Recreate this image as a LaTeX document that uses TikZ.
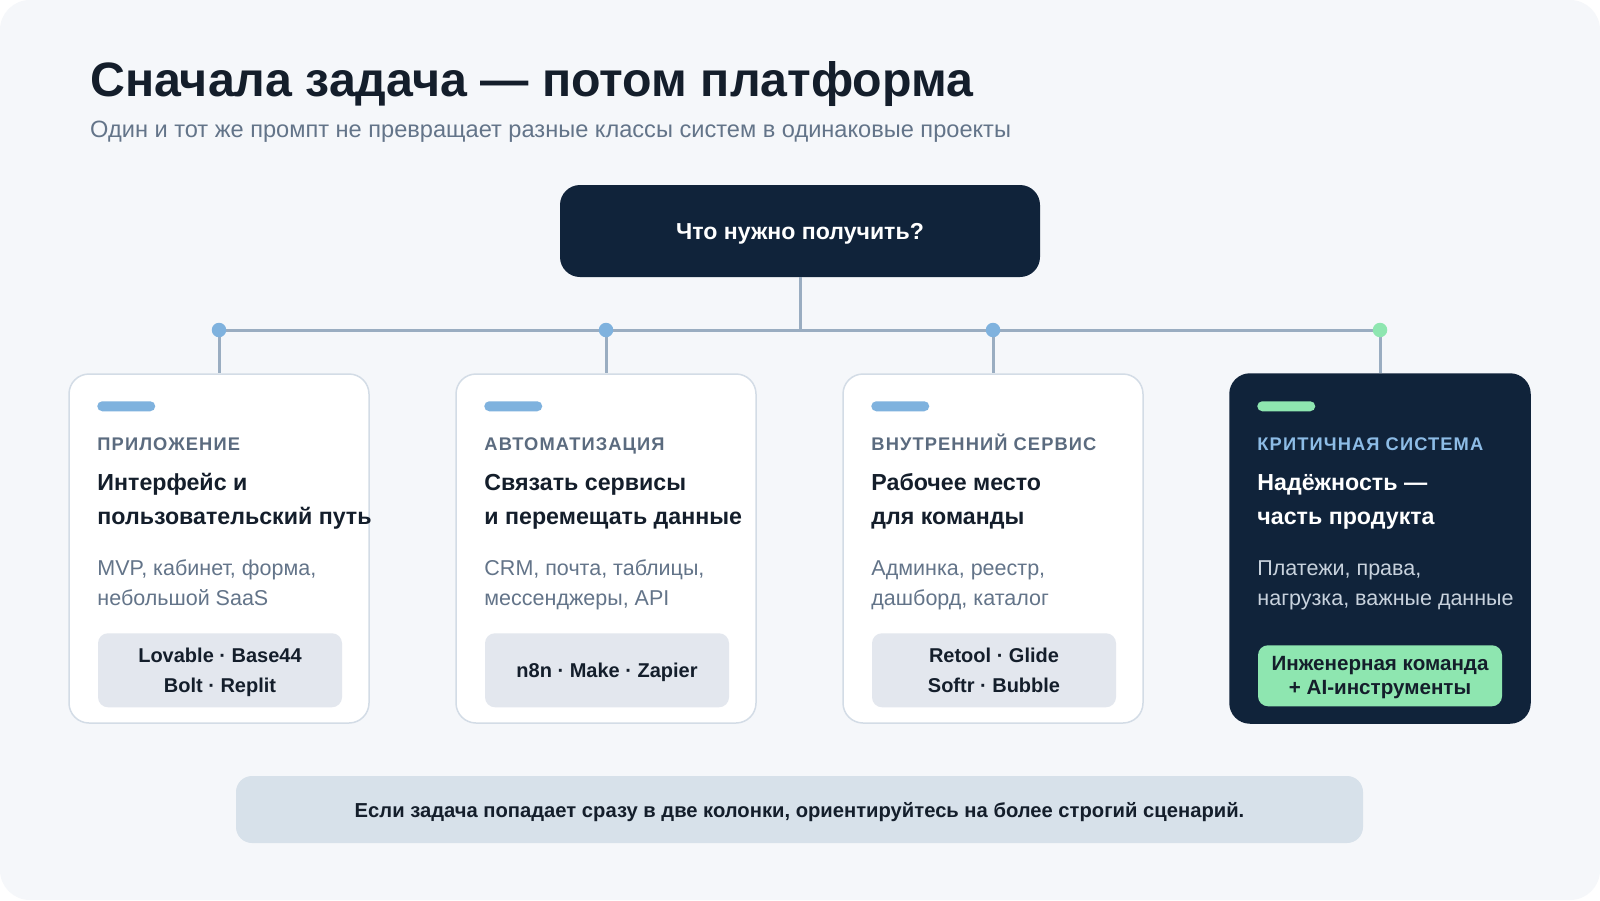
\documentclass[tikz,border=0pt]{standalone}
\usepackage{fontspec}
\setmainfont{Liberation Sans}
\newfontfamily\spacedfont[LetterSpace=6.0]{Liberation Sans}
\usepackage{xcolor}
\usetikzlibrary{positioning}

\definecolor{pagebg}{HTML}{F5F7FA}
\definecolor{navy}{HTML}{10233A}
\definecolor{ink}{HTML}{141E2B}
\definecolor{slate}{HTML}{5B6B7F}
\definecolor{mist}{HTML}{637489}
\definecolor{cardline}{HTML}{D3DCE6}
\definecolor{accent}{HTML}{7FB2DE}
\definecolor{mint}{HTML}{8EE6B0}
\definecolor{toolbg}{HTML}{E3E7EE}
\definecolor{wire}{HTML}{9AADC1}
\definecolor{notebg}{HTML}{D7E1EA}
\definecolor{skyline}{HTML}{8DBCE6}
\definecolor{fog}{HTML}{C8D2DD}

\tikzset{
    card/.style={draw=cardline, line width=1.5pt, fill=white, rounded corners=20pt,
        minimum width=300pt, minimum height=349pt, inner sep=0pt},
    darkcard/.style={card, draw=navy, fill=navy},
    bar/.style={fill=#1, rounded corners=5pt},
    kind/.style={anchor=base west, inner sep=0pt, text=slate,
        font=\spacedfont\bfseries\fontsize{18.3}{22}\selectfont},
    head/.style={anchor=base west, inner sep=0pt, align=left, text=ink,
        font=\bfseries\fontsize{23.2}{34}\selectfont},
    desc/.style={anchor=base west, inner sep=0pt, align=left, text=mist,
        font=\fontsize{21.5}{29.5}\selectfont},
    tools/.style={fill=toolbg, rounded corners=10pt, minimum width=244pt,
        minimum height=74pt, inner sep=0pt, align=center, text=ink, text depth=0pt,
        font=\bfseries\fontsize{20}{30}\selectfont},
    wireline/.style={draw=wire, line width=3pt},
    dot/.style={circle, fill=#1, minimum size=14.5pt, inner sep=0pt},
}

\begin{document}
\begin{tikzpicture}[x=1pt, y=-1pt]

    % page
    \useasboundingbox (0,0) rectangle (1600,900);
    \fill[white] (0,0) rectangle (1600,900);
    \fill[pagebg, rounded corners=30pt] (0,0) rectangle (1600,900);

    % heading
    \node[anchor=base west, inner sep=0pt, text=ink,
        font=\bfseries\fontsize{48.3}{56}\selectfont] (title) at (90,96)
        {Сначала задача — потом платформа};
    \node[anchor=base west, inner sep=0pt, text=mist,
        font=\fontsize{23.6}{28}\selectfont] (subtitle) at (90,137)
        {Один и тот же промпт не превращает разные классы систем в одинаковые проекты};

    % question
    \node[fill=navy, rounded corners=20pt, minimum width=480pt, minimum height=92pt,
        text=white, text depth=0pt, font=\bfseries\fontsize{23.1}{26}\selectfont] (ask) at (800,231)
        {Что нужно получить?};

    % cards
    \node[card] (app) at (219,548.5) {};
    \node[card] (flow) at (606,548.5) {};
    \node[card] (desk) at (993,548.5) {};
    \node[darkcard] (core) at (1380,548.5) {};

    % connectors
    \coordinate (hub) at (800,330);
    \coordinate (j1) at (219,330);
    \coordinate (j2) at (606,330);
    \coordinate (j3) at (993,330);
    \coordinate (j4) at (1380,330);
    \draw[wireline] (ask.south) -- (hub);
    \draw[wireline] (j1) -- (j4);
    \foreach \j/\c in {j1/app, j2/flow, j3/desk, j4/core}
        \draw[wireline] (\j) -- (\c.north);
    \node[dot=accent] (d1) at (j1) {};
    \node[dot=accent] (d2) at (j2) {};
    \node[dot=accent] (d3) at (j3) {};
    \node[dot=mint] (d4) at (j4) {};

    % card: app
    \fill[bar=accent] ([shift={(29,28)}]app.north west) rectangle ++(58,10);
    \node[kind] (app-kind) at ([shift={(29,77)}]app.north west) {ПРИЛОЖЕНИЕ};
    \node[head] (app-head) at ([shift={(29,151)}]app.north west)
        {Интерфейс и\\пользовательский путь};
    \node[desc] (app-desc) at ([shift={(29,232)}]app.north west)
        {MVP, кабинет, форма,\\небольшой SaaS};
    \node[tools] (app-tools) at ([shift={(1,297)}]app.north)
        {Lovable · Base44\\Bolt · Replit};

    % card: flow
    \fill[bar=accent] ([shift={(29,28)}]flow.north west) rectangle ++(58,10);
    \node[kind] (flow-kind) at ([shift={(29,77)}]flow.north west) {АВТОМАТИЗАЦИЯ};
    \node[head] (flow-head) at ([shift={(29,151)}]flow.north west)
        {Связать сервисы\\и перемещать данные};
    \node[desc] (flow-desc) at ([shift={(29,232)}]flow.north west)
        {CRM, почта, таблицы,\\мессенджеры, API};
    \node[tools] (flow-tools) at ([shift={(1,297)}]flow.north)
        {n8n · Make · Zapier};

    % card: desk
    \fill[bar=accent] ([shift={(29,28)}]desk.north west) rectangle ++(58,10);
    \node[kind] (desk-kind) at ([shift={(29,77)}]desk.north west) {ВНУТРЕННИЙ СЕРВИС};
    \node[head] (desk-head) at ([shift={(29,151)}]desk.north west)
        {Рабочее место\\для команды};
    \node[desc] (desk-desc) at ([shift={(29,232)}]desk.north west)
        {Админка, реестр,\\дашборд, каталог};
    \node[tools] (desk-tools) at ([shift={(1,297)}]desk.north)
        {Retool · Glide\\Softr · Bubble};

    % card: core
    \fill[bar=mint] ([shift={(28,28)}]core.north west) rectangle ++(58,10);
    \node[kind, text=skyline] (core-kind) at ([shift={(28,77)}]core.north west) {КРИТИЧНАЯ СИСТЕМА};
    \node[head, text=white] (core-head) at ([shift={(28,151)}]core.north west)
        {Надёжность —\\часть продукта};
    \node[desc, text=fog] (core-desc) at ([shift={(28,232)}]core.north west)
        {Платежи, права,\\нагрузка, важные данные};
    \node[tools, fill=mint, minimum height=61pt, font=\bfseries\fontsize{20.6}{24}\selectfont]
        (core-tools) at ([shift={(0,302.5)}]core.north)
        {Инженерная команда\\+ AI-инструменты};

    % note
    \node[fill=notebg, rounded corners=16pt, minimum width=1127pt, minimum height=67pt,
        text=ink, text depth=0pt, font=\bfseries\fontsize{20.2}{24}\selectfont] (tip) at (799.5,809.5)
        {Если задача попадает сразу в две колонки, ориентируйтесь на более строгий сценарий.};

\end{tikzpicture}
\end{document}
